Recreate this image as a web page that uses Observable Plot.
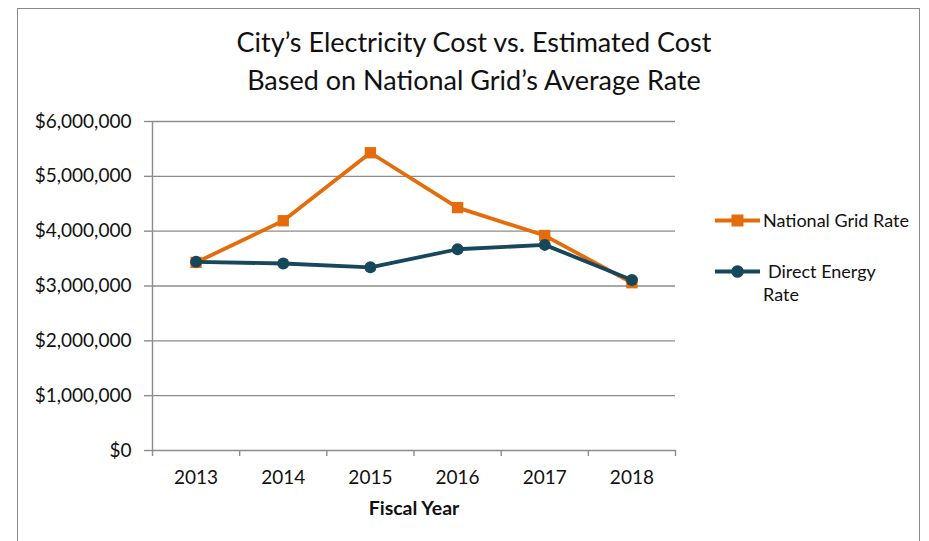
<!DOCTYPE html>
<html>
<head>
<meta charset="utf-8">
<script src="https://cdn.jsdelivr.net/npm/d3@7"></script>
<script src="https://cdn.jsdelivr.net/npm/@observablehq/plot@0.6"></script>
<style>
  html, body { margin: 0; padding: 0; background: #fff; }
  body { font-family: Lato, "Open Sans", sans-serif; }
  #wrap { position: relative; width: 929px; height: 541px; overflow: hidden; }
  #frame { position: absolute; left: 17px; top: 8px; width: 903px; height: 560px; border: 1px solid #8a8a8a; box-sizing: border-box; }
  #title { position: absolute; left: 17px; width: 914px; top: 23px; text-align: center; font-size: 27px; line-height: 38px; color: #111; }
  #chart { position: absolute; left: 0; top: 100px; }
  .leg { position: absolute; font-size: 18px; color: #111; line-height: 23px; }
  .leg svg { position: absolute; left: 0; top: 0; }
</style>
</head>
<body>
<div id="wrap">
  <div id="frame"></div>
  <div id="title">City’s Electricity Cost vs. Estimated Cost<br>Based on National Grid’s Average Rate</div>
  <div id="chart"></div>
  <div class="leg" id="leg1" style="left:714px; top:209px;"></div>
  <div class="leg" id="leg2" style="left:714px; top:260px;"></div>
</div>
<script>
const years = [2013, 2014, 2015, 2016, 2017, 2018];
const nationalGrid = [3430000, 4190000, 5430000, 4430000, 3920000, 3060000];
const directEnergy = [3440000, 3410000, 3340000, 3670000, 3750000, 3110000];
const seriesNames = ["National Grid Rate", "Direct Energy Rate"];
const seriesColors = ["#e46c0a", "#17475b"];
const yTicks = [0, 1000000, 2000000, 3000000, 4000000, 5000000, 6000000];

const ng = years.map((y, i) => ({year: y, value: nationalGrid[i]}));
const de = years.map((y, i) => ({year: y, value: directEnergy[i]}));
const bounds = years.map(y => y - 0.5).concat([years[years.length - 1] + 0.5]);

const plot = Plot.plot({
  width: 929,
  height: 441,
  marginLeft: 152,
  marginRight: 254,
  marginTop: 21,
  marginBottom: 91,
  style: {fontFamily: "Lato, 'Open Sans', sans-serif", fontSize: "19px", color: "#111", background: "transparent"},
  x: {domain: [bounds[0], bounds[bounds.length - 1]], label: null},
  y: {domain: [0, 6000000], label: null},
  marks: [
    Plot.ruleY(yTicks, {stroke: "#8c8c8c", strokeWidth: 1.4}),
    Plot.ruleX([bounds[0]], {stroke: "#8c8c8c", strokeWidth: 1.4}),
    Plot.axisY({ticks: yTicks, tickFormat: d3.format("$,"), tickSize: 8, tickPadding: 13, stroke: "#8c8c8c", strokeWidth: 1.4, fontSize: 19}),
    Plot.axisX({ticks: bounds, tickFormat: () => "", tickSize: 6, stroke: "#8c8c8c", strokeWidth: 1.4}),
    Plot.axisX({ticks: years, tickFormat: d => String(d), tickSize: 0, tickPadding: 20, fontSize: 19}),
    Plot.text(["Fiscal Year"], {frameAnchor: "bottom", dy: 64, fontWeight: "bold", fontSize: 19.5, fill: "#111"}),
    Plot.line(ng, {x: "year", y: "value", stroke: seriesColors[0], strokeWidth: 3.8}),
    Plot.dot(ng, {x: "year", y: "value", symbol: "square", r: 6.4, fill: seriesColors[0], stroke: "none"}),
    Plot.line(de, {x: "year", y: "value", stroke: seriesColors[1], strokeWidth: 3.8}),
    Plot.dot(de, {x: "year", y: "value", symbol: "circle", r: 6, fill: seriesColors[1], stroke: "none"})
  ]
});
document.getElementById("chart").appendChild(plot);

function swatch(color, sym) {
  const marker = sym === "square"
    ? `<rect x="17.5" y="5.5" width="12" height="12" fill="${color}"/>`
    : `<circle cx="23.5" cy="11.5" r="6.3" fill="${color}"/>`;
  return `<svg width="48" height="23"><line x1="1" x2="46" y1="11.5" y2="11.5" stroke="${color}" stroke-width="3.8"/>${marker}</svg>`;
}
document.getElementById("leg1").innerHTML = swatch(seriesColors[0], "square") + `<div style="margin-left:49px;white-space:nowrap">${seriesNames[0]}</div>`;
document.getElementById("leg2").innerHTML = swatch(seriesColors[1], "circle") + `<div style="margin-left:54px;white-space:nowrap">Direct Energy</div><div style="margin-left:49px">Rate</div>`;
</script>
</body>
</html>
